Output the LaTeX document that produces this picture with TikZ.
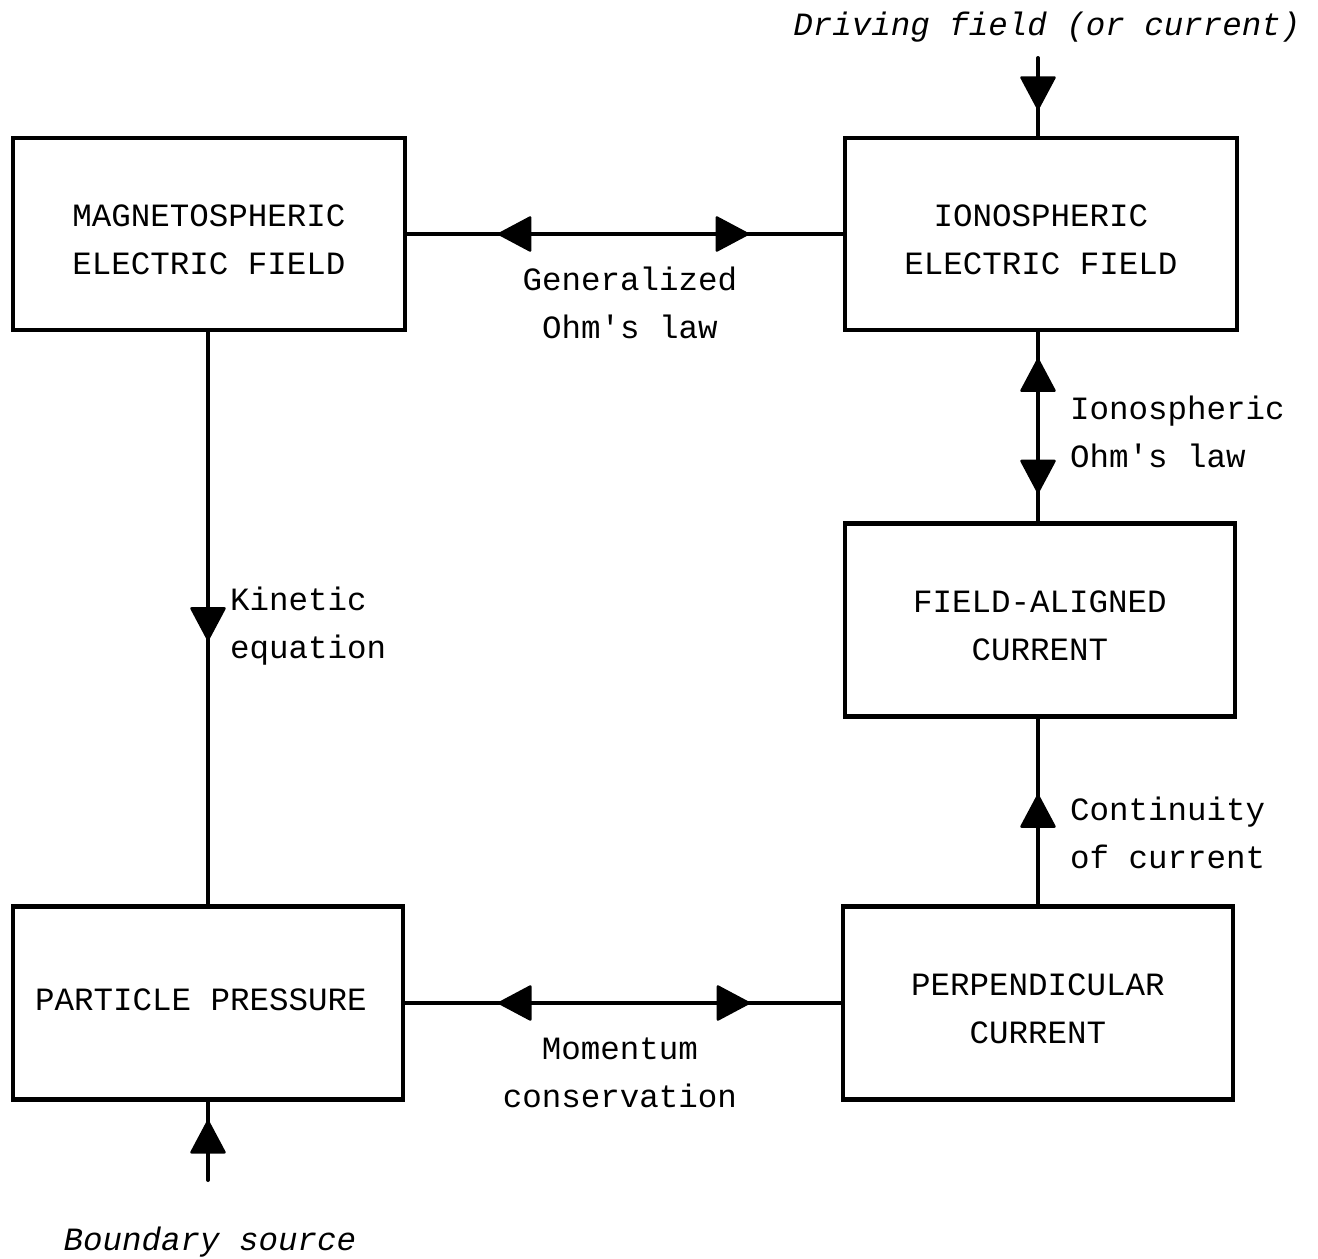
\documentclass[tikz,border=0pt]{standalone}
\usepackage{fontspec}
\setmainfont{Liberation Mono}
\setmonofont{Liberation Mono}
\usetikzlibrary{calc}
\begin{document}
\begin{tikzpicture}[x=1pt,y=-1pt,
  font=\fontsize{32.5}{48}\selectfont\ttfamily,
  box/.style={draw, line width=4.5pt, minimum width=392pt, minimum height=192pt, inner sep=0pt},
  btext/.style={label={[align=center, inner sep=0pt, yshift=-6pt]center:#1}},
  conn/.style={line width=4pt},
  lbl/.style={inner sep=0pt, align=left, anchor=west},
  clbl/.style={inner sep=0pt, align=center},
  tri/.pic={\filldraw[line width=2.5pt, line join=round] (0,0) -- (-31,16.5) -- (-31,-16.5) -- cycle;}
]
\useasboundingbox (0,0) rectangle (1318,1259);

\node[box, btext={MAGNETOSPHERIC\\ELECTRIC FIELD}] (mef) at (209,234) {};
\node[box, btext={IONOSPHERIC\\ELECTRIC FIELD}] (ief) at (1041,234) {};
\node[box, minimum width=390pt, minimum height=193pt, btext={FIELD-ALIGNED\\CURRENT}] (fac) at (1040,620) {};
\node[box, minimum width=390pt, minimum height=193pt, label={[inner sep=0pt, xshift=-7pt, yshift=3pt]center:PARTICLE PRESSURE}] (pp) at (208,1003) {};
\node[box, minimum width=390pt, minimum height=193pt, btext={PERPENDICULAR\\CURRENT}] (pc) at (1038,1003) {};

\coordinate (drv) at (1038,58);
\coordinate (bnd) at (208,1180);

% connectors
\draw[conn] (mef.east) -- (ief.west);
\pic[rotate=180] at ($(mef.east)!0.211!(ief.west)$) {tri};
\pic at ($(mef.east)!0.782!(ief.west)$) {tri};

\draw[conn] (pp.east) -- (pc.west);
\pic[rotate=180] at ($(pp.east)!0.216!(pc.west)$) {tri};
\pic at ($(pp.east)!0.789!(pc.west)$) {tri};

\draw[conn] (ief.south -| 1038,0) -- (fac.north -| 1038,0) coordinate[pos=0.145] (t1) coordinate[pos=0.845] (t2);
\pic[rotate=90] at (t1) {tri};
\pic[rotate=-90] at (t2) {tri};

\draw[conn] (pc.north -| 1038,0) -- (fac.south -| 1038,0) coordinate[pos=0.586] (t3);
\pic[rotate=90] at (t3) {tri};

\draw[conn] (mef.south -| 208,0) -- (pp.north) coordinate[pos=0.537] (t4);
\pic[rotate=-90] at (t4) {tri};

\draw[conn, line cap=round] (drv) -- (ief.north -| drv) coordinate[pos=0.65] (t5);
\pic[rotate=-90] at (t5) {tri};

\draw[conn, line cap=round] (bnd) -- (pp.south) coordinate[pos=0.75] (t6);
\pic[rotate=90] at (t6) {tri};

% labels
\node[clbl] (l1) at (630,303) {Generalized\\Ohm's law};
\node[clbl] (l2) at (620,1073) {Momentum\\conservation};
\node[lbl] (l3) at (1070,432) {Ionospheric\\Ohm's law};
\node[lbl] (l4) at (1070,833) {Continuity\\of current};
\node[lbl] (l5) at (230,626) {Kinetic\\equation};
\node[clbl] (l6) at (1047,27) {\itshape Driving field (or current)};
\node[clbl] (l7) at (210,1242) {\itshape Boundary source};
\end{tikzpicture}
\end{document}
